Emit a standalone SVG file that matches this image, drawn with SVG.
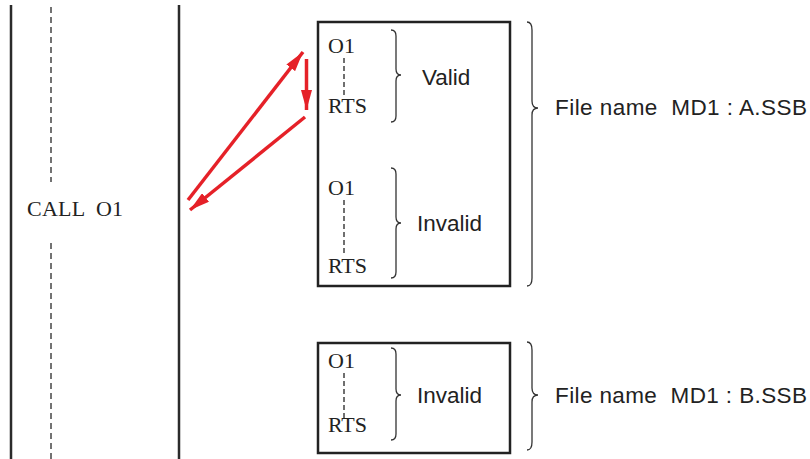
<svg xmlns="http://www.w3.org/2000/svg" width="810" height="459" viewBox="0 0 810 459">
<style>
.ln{stroke:#2b2b2b;stroke-width:2.5;fill:none}
.dash{stroke:#444;stroke-width:1.5;stroke-dasharray:6 4;fill:none}
.sdash{stroke:#333;stroke-width:1.4;stroke-dasharray:5 3;fill:none}
.box{stroke:#222;stroke-width:2.5;fill:#fff}
.brace{stroke:#333;stroke-width:1.3;fill:none}
.serif{font-family:"Liberation Serif","DejaVu Serif",serif;font-size:22px;fill:#222;white-space:pre}
.sans{font-family:"Liberation Sans",Arial,sans-serif;font-size:22.5px;fill:#222;white-space:pre}
.arr{stroke:#e52128;stroke-width:3.5;fill:none}
</style>
<defs>
<marker id="ah" markerWidth="20" markerHeight="11" refX="20" refY="5.5" orient="auto" markerUnits="userSpaceOnUse">
<path d="M0,0 L20,5.5 L0,11 Z" fill="#e52128"/>
</marker>
</defs>
<g id="lanes">
<line class="ln" x1="11" y1="5" x2="11" y2="459"/>
<line class="ln" x1="179" y1="5" x2="179" y2="459"/>
<line class="dash" x1="51" y1="7" x2="51" y2="182"/>
<line class="dash" x1="51" y1="243" x2="51" y2="459"/>
<text class="serif" x="27" y="216" textLength="96" lengthAdjust="spacing">CALL  O1</text>
</g>
<g id="boxA">
<rect class="box" x="318" y="22" width="192" height="264"/>
<text class="serif" x="328" y="53">O1</text>
<line class="sdash" x1="344" y1="58" x2="344" y2="95"/>
<text class="serif" x="328" y="113">RTS</text>
<path class="brace" d="M391,30 Q396,30 396,36 L396,69 Q396,75 401,75 Q396,75 396,81 L396,116 Q396,122 391,122"/>
<text class="sans" x="422" y="85">Valid</text>
<text class="serif" x="328" y="195">O1</text>
<line class="sdash" x1="344" y1="200" x2="344" y2="254"/>
<text class="serif" x="328" y="273">RTS</text>
<path class="brace" d="M391,168 Q396,168 396,174 L396,217 Q396,223 401,223 Q396,223 396,229 L396,272 Q396,278 391,278"/>
<text class="sans" x="417" y="231">Invalid</text>
</g>
<g id="labelA">
<path class="brace" d="M527,22 Q532,22 532,30 L532,101 Q532,108 538,108 Q532,108 532,115 L532,278 Q532,286 527,286"/>
<text class="sans" x="555" y="115" textLength="252" lengthAdjust="spacing">File name  MD1 : A.SSB</text>
</g>
<g id="boxB">
<rect class="box" x="318" y="343" width="192" height="110"/>
<text class="serif" x="328" y="368">O1</text>
<line class="sdash" x1="344" y1="373" x2="344" y2="420"/>
<text class="serif" x="328" y="432">RTS</text>
<path class="brace" d="M391,348 Q396,348 396,354 L396,389 Q396,395 401,395 Q396,395 396,401 L396,434 Q396,440 391,440"/>
<text class="sans" x="417" y="403">Invalid</text>
</g>
<g id="labelB">
<path class="brace" d="M527,342 Q532,342 532,350 L532,388 Q532,395 538,395 Q532,395 532,402 L532,442 Q532,450 527,450"/>
<text class="sans" x="555" y="403" textLength="252" lengthAdjust="spacing">File name  MD1 : B.SSB</text>
</g>
<g id="connectors">
<line class="arr" x1="188" y1="200" x2="303" y2="52" marker-end="url(#ah)"/>
<line class="arr" x1="306.5" y1="59" x2="306.5" y2="110" marker-end="url(#ah)"/>
<line class="arr" x1="305" y1="117" x2="190" y2="210" marker-end="url(#ah)"/>
</g>
</svg>
